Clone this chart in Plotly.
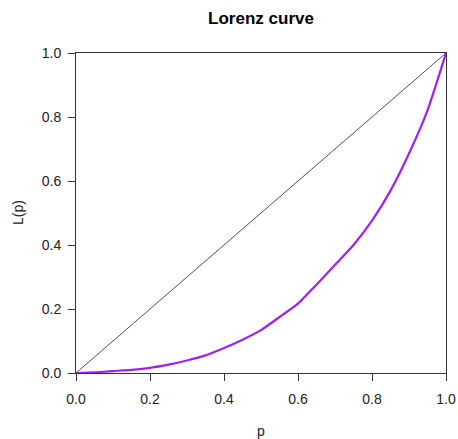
import plotly.graph_objects as go

p_vals = [0, 0.05, 0.1, 0.15, 0.2, 0.25, 0.3, 0.35, 0.4, 0.45, 0.5, 0.55, 0.6,
          0.65, 0.7, 0.75, 0.8, 0.85, 0.9, 0.95, 1.0]
L_vals = [0, 0.002, 0.006, 0.010, 0.016, 0.026, 0.039, 0.055, 0.078, 0.104, 0.134,
          0.175, 0.217, 0.276, 0.338, 0.400, 0.476, 0.570, 0.686, 0.821, 1.0]
equality = [0, 1]
tick_vals = [0, 0.2, 0.4, 0.6, 0.8, 1.0]
tick_text = ["0.0", "0.2", "0.4", "0.6", "0.8", "1.0"]

FONT = "Liberation Sans, Arial, sans-serif"

fig = go.Figure()
fig.add_trace(go.Scatter(x=equality, y=equality, mode="lines",
                         line=dict(color="black", width=0.7), hoverinfo="skip"))
fig.add_trace(go.Scatter(x=p_vals, y=L_vals, mode="lines",
                         line=dict(color="#A020F0", width=2.2, shape="spline", smoothing=0.6)))

axis_common = dict(range=[0, 1], tickvals=tick_vals, ticktext=tick_text,
                   ticks="outside", ticklen=7, tickwidth=1, tickcolor="#333",
                   showline=True, linecolor="#333", linewidth=1, mirror=True,
                   showgrid=False, zeroline=False, automargin=False,
                   tickfont=dict(family=FONT, size=14, color="#222"))

fig.update_layout(
    width=458, height=439,
    margin=dict(l=76, r=12, t=53, b=66),
    paper_bgcolor="white", plot_bgcolor="white",
    showlegend=False,
    title=dict(text="<b>Lorenz curve</b>", x=0.5, xref="paper", xanchor="center",
               y=1 - 18 / 439, yanchor="middle",
               font=dict(family=FONT, size=17, color="black")),
    xaxis=dict(**axis_common),
    yaxis=dict(**axis_common),
)
fig.update_yaxes(ticklabelstandoff=4)
fig.update_xaxes(ticklabelstandoff=6)

fig.add_annotation(text="p", xref="paper", yref="paper", x=0.5, y=-58 / 320,
                   xanchor="center", yanchor="middle", showarrow=False,
                   font=dict(family=FONT, size=14, color="#222"))
fig.add_annotation(text="L(p)", xref="paper", yref="paper", x=-58 / 370, y=0.5,
                   xanchor="center", yanchor="middle", showarrow=False, textangle=-90,
                   font=dict(family=FONT, size=14, color="#222"))

fig.write_html("out.html", config={"displayModeBar": False},
               post_script="document.body.style.margin='0';document.body.style.overflow='hidden';")
